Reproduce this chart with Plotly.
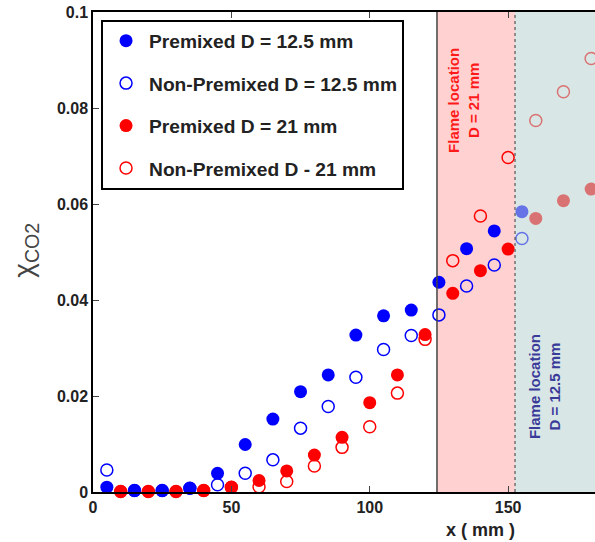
import plotly.graph_objects as go

# ---------------- data ----------------
x_pre_125 = [5, 15, 25, 35, 45, 55, 65, 75, 85, 95, 105, 115, 125, 135, 145, 155]
y_pre_125 = [0.0010, 0.0003, 0.0003, 0.0008, 0.0039, 0.0099, 0.0152, 0.0209, 0.0244,
             0.0327, 0.0367, 0.0379, 0.0437, 0.0507, 0.0544, 0.0584]

x_non_125 = [5, 15, 25, 35, 45, 55, 65, 75, 85, 95, 105, 115, 125, 135, 145, 155]
y_non_125 = [0.0046, 0.0003, 0.0003, 0.0008, 0.0015, 0.0039, 0.0067, 0.0133, 0.0178,
             0.0239, 0.0297, 0.0326, 0.0369, 0.0429, 0.0473, 0.0528]

x_pre_21 = [10, 20, 30, 40, 50, 60, 70, 80, 90, 100, 110, 120, 130, 140, 150, 160, 170, 180]
y_pre_21 = [0.0001, 0.0001, 0.0001, 0.0003, 0.0010, 0.0024, 0.0044, 0.0077, 0.0114,
            0.0186, 0.0244, 0.0328, 0.0414, 0.0461, 0.0506, 0.0570, 0.0607, 0.0631]

x_non_21 = [10, 20, 30, 40, 50, 60, 70, 80, 90, 100, 110, 120, 130, 140, 150, 160, 170, 180]
y_non_21 = [0.0001, 0.0001, 0.0001, 0.0003, 0.0010, 0.0011, 0.0022, 0.0054, 0.0093,
            0.0136, 0.0206, 0.0318, 0.0482, 0.0575, 0.0697, 0.0774, 0.0834, 0.0903]

names = ["Premixed D = 12.5 mm", "Non-Premixed D = 12.5 mm",
         "Premixed D = 21 mm", "Non-Premixed D - 21 mm"]

x_ticks = [0, 50, 100, 150]
y_ticks = [0, 0.02, 0.04, 0.06, 0.08, 0.1]
y_ticktext = ["0", "0.02", "0.04", "0.06", "0.08", "0.1"]

flame_21 = [124.3, 152.5]     # flame location zone, D = 21 mm
flame_125 = [152.5, 181.4]    # flame location zone, D = 12.5 mm
x_range = [0, 181.4]
y_range = [0, 0.1]

BLUE = "#0000ff"
RED = "#ff0000"
FONT = "Arial, Liberation Sans, sans-serif"

fig = go.Figure()

series = [
    (x_pre_125, y_pre_125, names[0], BLUE, True),
    (x_non_125, y_non_125, names[1], BLUE, False),
    (x_pre_21, y_pre_21, names[2], RED, True),
    (x_non_21, y_non_21, names[3], RED, False),
]
for i, (xs, ys, nm, col, filled) in enumerate(series):
    if filled:
        marker = dict(symbol="circle", size=13, color=col, line=dict(width=0))
    else:
        marker = dict(symbol="circle-open", size=12, color=col, line=dict(width=1.5, color=col))
    fig.add_trace(go.Scatter(x=xs, y=ys, mode="markers", name=nm, marker=marker,
                             legendgroup=f"g{i}", cliponaxis=False))

shapes = [
    dict(type="rect", xref="x", yref="y", x0=flame_21[0], x1=flame_21[1], y0=0, y1=0.1,
         fillcolor="rgba(255,0,0,0.18)", line=dict(width=0), layer="below"),
    dict(type="rect", xref="x", yref="y", x0=flame_125[0], x1=flame_125[1], y0=0, y1=0.1,
         fillcolor="rgba(185,210,210,0.55)", line=dict(width=0), layer="above"),
    dict(type="line", xref="x", yref="y", x0=flame_21[0], x1=flame_21[0], y0=0, y1=0.1,
         line=dict(color="#444444", width=1.5), layer="above"),
    dict(type="line", xref="x", yref="y", x0=flame_21[1], x1=flame_21[1], y0=0, y1=0.1,
         line=dict(color="#555555", width=1.2, dash="dot"), layer="above"),
]

annotations = [
    dict(text="<b>Flame location<br>D = 21 mm</b>", x=134.1, y=0.0815, xref="x", yref="y",
         xanchor="center", yanchor="middle",
         textangle=-90, showarrow=False, font=dict(family=FONT, size=15, color="#ff1a1a")),
    dict(text="<b>Flame location<br>D = 12.5 mm</b>", x=163.4, y=0.0219, xref="x", yref="y",
         xanchor="center", yanchor="middle",
         textangle=-90, showarrow=False, font=dict(family=FONT, size=15, color="#3a3a99")),
    dict(text="χ<sub>CO2</sub>", x=-0.136, y=0.504, xref="paper", yref="paper",
         xanchor="center", yanchor="middle", textangle=-90,
         showarrow=False, font=dict(family=FONT, size=28, color="#444444")),
    dict(text="<b>x ( mm )</b>", x=0.771, y=-0.079, xref="paper", yref="paper",
         xanchor="center", yanchor="middle",
         showarrow=False, font=dict(family=FONT, size=18, color="#222222")),
]

fig.update_layout(
    width=595, height=542,
    margin=dict(l=93, r=0, t=12, b=50),
    paper_bgcolor="white", plot_bgcolor="white",
    font=dict(family=FONT, size=16, color="#222222"),
    shapes=shapes, annotations=annotations,
    legend=dict(x=0.016, y=0.984, xanchor="left", yanchor="top",
                bgcolor="white", bordercolor="black", borderwidth=2,
                font=dict(family=FONT, size=19.2, color="#222222", weight="bold"),
                tracegroupgap=14.5, traceorder="grouped", itemwidth=36),
    xaxis=dict(range=x_range, tickvals=x_ticks, ticks="inside", ticklen=6,
               showline=True, linecolor="black", linewidth=1.5, mirror="ticks",
               showgrid=False, zeroline=False,
               tickfont=dict(family=FONT, size=16, weight="bold")),
    yaxis=dict(range=y_range, tickvals=y_ticks, ticktext=y_ticktext, ticks="inside",
               ticklen=6, showline=True, linecolor="black", linewidth=1.5,
               showgrid=False, zeroline=False,
               tickfont=dict(family=FONT, size=16, weight="bold")),
)

fig.write_html("out.html")
